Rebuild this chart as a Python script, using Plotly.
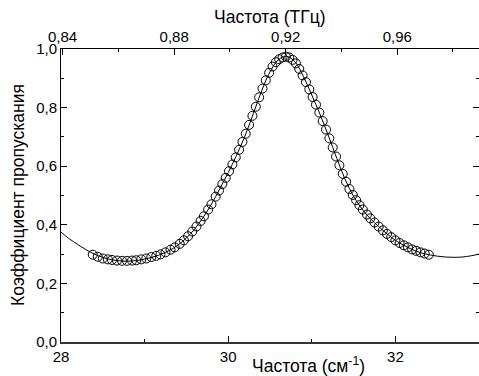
import plotly.graph_objects as go

# measured transmission (markers)
x_meas = [28.38, 28.44, 28.50, 28.56, 28.61, 28.67, 28.73, 28.79, 28.85, 28.90,
          28.96, 29.02, 29.08, 29.14, 29.19, 29.25, 29.31, 29.36, 29.42, 29.47,
          29.52, 29.57, 29.62, 29.67, 29.71, 29.76, 29.80, 29.85, 29.89, 29.93,
          29.97, 30.01, 30.05, 30.09, 30.13, 30.17, 30.21, 30.25, 30.29, 30.33,
          30.37, 30.41, 30.45, 30.49, 30.53, 30.57, 30.61, 30.65, 30.69, 30.73,
          30.77, 30.81, 30.85, 30.89, 30.93, 30.97, 31.01, 31.05, 31.09, 31.13,
          31.17, 31.21, 31.25, 31.29, 31.33, 31.37, 31.41, 31.45, 31.49, 31.53,
          31.57, 31.61, 31.66, 31.70, 31.75, 31.80, 31.85, 31.90, 31.95, 32.00,
          32.05, 32.10, 32.15, 32.20, 32.25, 32.30, 32.35, 32.40]
y_meas = [0.298, 0.291, 0.285, 0.282, 0.280, 0.278, 0.277, 0.277, 0.278, 0.279,
          0.282, 0.285, 0.290, 0.294, 0.299, 0.306, 0.315, 0.323, 0.335, 0.347,
          0.361, 0.377, 0.394, 0.413, 0.429, 0.452, 0.470, 0.496, 0.517, 0.539,
          0.560, 0.583, 0.606, 0.630, 0.656, 0.683, 0.711, 0.741, 0.772, 0.803,
          0.835, 0.865, 0.893, 0.919, 0.940, 0.955, 0.965, 0.971, 0.974, 0.971,
          0.963, 0.951, 0.932, 0.910, 0.887, 0.862, 0.836, 0.810, 0.783, 0.754,
          0.725, 0.695, 0.664, 0.633, 0.603, 0.574, 0.547, 0.522, 0.502, 0.484,
          0.467, 0.452, 0.435, 0.422, 0.408, 0.394, 0.381, 0.369, 0.358, 0.347,
          0.338, 0.330, 0.323, 0.316, 0.311, 0.306, 0.302, 0.298]

# fitted curve (line)
x_fit = [28.0, 28.1, 28.2, 28.3, 28.4, 28.5, 28.6, 28.7, 28.8, 28.9,
         29.0, 29.1, 29.2, 29.3, 29.4, 29.5, 29.6, 29.7, 29.8, 29.9,
         30.0, 30.1, 30.2, 30.3, 30.4, 30.5, 30.6, 30.7, 30.8, 30.9,
         31.0, 31.1, 31.2, 31.3, 31.4, 31.5, 31.6, 31.7, 31.8, 31.9,
         32.0, 32.1, 32.2, 32.3, 32.4, 32.5, 32.6, 32.7, 32.8, 32.9, 33.0]
y_fit = [0.375, 0.352, 0.333, 0.315, 0.300, 0.289, 0.281, 0.277, 0.276, 0.278,
         0.283, 0.290, 0.300, 0.313, 0.331, 0.355, 0.386, 0.425, 0.471, 0.523,
         0.578, 0.637, 0.703, 0.779, 0.857, 0.922, 0.963, 0.975, 0.956, 0.906,
         0.843, 0.776, 0.703, 0.626, 0.554, 0.497, 0.454, 0.421, 0.394, 0.369,
         0.347, 0.330, 0.316, 0.305, 0.298, 0.293, 0.290, 0.289, 0.290, 0.294, 0.300]

x_range = [28, 33]
cm_per_thz = 33.356
top_ticks = [0.84, 0.88, 0.92, 0.96]
y_ticks = [0.0, 0.2, 0.4, 0.6, 0.8, 1.0]

FONT = "Arial, Liberation Sans, sans-serif"
TICK = 15
TITLE = 17.5

fig = go.Figure()
fig.add_trace(go.Scatter(x=x_fit, y=y_fit, mode="lines", line=dict(color="black", width=1),
                         line_shape="spline", hoverinfo="skip", showlegend=False))
fig.add_trace(go.Scatter(x=x_meas, y=y_meas, mode="markers",
                         marker=dict(symbol="circle-open", size=9,
                                     line=dict(color="black", width=1), color="black"),
                         showlegend=False))
# dummy trace to activate top axis
fig.add_trace(go.Scatter(x=[x_range[0] / cm_per_thz, x_range[1] / cm_per_thz], y=[None, None],
                         xaxis="x2", mode="markers", marker=dict(opacity=0),
                         hoverinfo="skip", showlegend=False))

fig.update_layout(
    width=479, height=376,
    margin=dict(l=61, r=0, t=49, b=34),
    paper_bgcolor="white", plot_bgcolor="white",
    separators=", ",
    font=dict(family=FONT, size=TICK, color="black"),
    xaxis=dict(range=x_range, tick0=28, dtick=2, ticks="inside", ticklen=6,
               tickcolor="black", showline=True, linecolor="#333", linewidth=2,
               showgrid=False, zeroline=False, mirror=False,
               minor=dict(dtick=1, ticks="inside", ticklen=3, tickcolor="black"),
               tickfont=dict(size=TICK)),
    xaxis2=dict(range=[x_range[0] / cm_per_thz, x_range[1] / cm_per_thz],
                overlaying="x", side="top", anchor="y",
                tickvals=top_ticks, tickformat=".2f", ticks="inside", ticklen=6,
                tickcolor="black", showline=True, linecolor="black", linewidth=1,
                showgrid=False, zeroline=False,
                minor=dict(dtick=0.02, tick0=0.84, ticks="inside", ticklen=3, tickcolor="black"),
                tickfont=dict(size=TICK)),
    yaxis=dict(range=[0, 1.0], tickvals=y_ticks, tickformat=".1f", ticks="inside",
               ticklen=6, tickcolor="black", showline=True, linecolor="black",
               linewidth=1, mirror="ticks", showgrid=False, zeroline=False,
               minor=dict(dtick=0.1, ticks="inside", ticklen=3, tickcolor="black"),
               tickfont=dict(size=TICK)),
    annotations=[
        dict(text="Частота (ТГц)", xref="paper", yref="paper", x=0.5, y=1.108,
             xanchor="center", yanchor="middle", showarrow=False, font=dict(size=TITLE)),
        dict(text="Частота (см<sup>-1</sup>)", xref="paper", yref="paper", x=0.591, y=-0.079,
             xanchor="center", yanchor="middle", showarrow=False, font=dict(size=TITLE)),
        dict(text="Коэффициент пропускания", xref="paper", yref="paper", x=-0.104, y=0.5,
             xanchor="center", yanchor="middle", textangle=-90, showarrow=False,
             font=dict(size=TITLE)),
    ],
)

fig.write_html("out.html")
